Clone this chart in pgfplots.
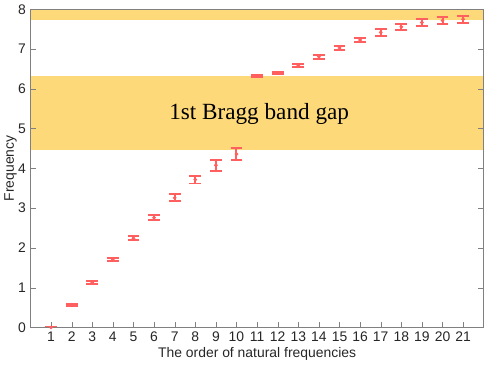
\documentclass[border=0pt]{standalone}
\usepackage{pgfplots}
\pgfplotsset{compat=1.18}
\usepackage{fontspec}
\setmainfont{Liberation Sans}
\newfontfamily\serifB{Liberation Serif}
\definecolor{band}{RGB}{253,217,122}
\definecolor{ebar}{RGB}{255,95,95}
\definecolor{axgray}{RGB}{128,128,128}
\definecolor{txt}{RGB}{38,38,38}
\begin{document}
\begin{tikzpicture}
\begin{axis}[
  scale only axis,
  width=342pt, height=240pt,
  xmin=0, xmax=22, ymin=0, ymax=8,
  xtick={1,...,21}, ytick={0,...,8},
  tick align=inside,
  xtick pos=bottom, ytick pos=both,
  axis line style={axgray},
  major tick style={axgray},
  tick label style={font=\fontsize{10.5}{12}\selectfont, text=txt},
  /pgf/number format/assume math mode=true,
  xlabel={The order of natural frequencies},
  ylabel={Frequency},
  label style={font=\fontsize{10.5}{12}\selectfont, text=txt},
  xlabel style={yshift=3pt},
  ylabel style={yshift=-6pt},
  axis on top,
  clip=true,
]
\addplot[fill=band, draw=none] coordinates {(0,4.47) (22,4.47) (22,6.32) (0,6.32)};
\addplot[fill=band, draw=none] coordinates {(0,7.74) (22,7.74) (22,8.2) (0,8.2)};
\addplot[only marks, mark=*, mark size=1.2pt, draw=ebar, fill=ebar, color=ebar,
  error bars/.cd, y dir=both, y explicit,
  error bar style={draw=ebar, color=ebar, line width=1.5pt},
  error mark options={rotate=90, mark size=4.5pt, line width=1.5pt, draw=ebar, color=ebar, solid}]
  coordinates {
  (1,0) +- (0,0.01)
  (2,0.57) +- (0,0.02)
  (3,1.13) +- (0,0.03)
  (4,1.70) +- (0,0.04)
  (5,2.24) +- (0,0.05)
  (6,2.76) +- (0,0.06)
  (7,3.26) +- (0,0.09)
  (8,3.72) +- (0,0.10)
  (9,4.08) +- (0,0.14)
  (10,4.36) +- (0,0.16)
  (11,6.33) +- (0,0.02)
  (12,6.40) +- (0,0.03)
  (13,6.58) +- (0,0.04)
  (14,6.81) +- (0,0.05)
  (15,7.03) +- (0,0.06)
  (16,7.23) +- (0,0.06)
  (17,7.42) +- (0,0.08)
  (18,7.56) +- (0,0.08)
  (19,7.67) +- (0,0.09)
  (20,7.72) +- (0,0.08)
  (21,7.75) +- (0,0.09)
  };
\node[font=\serifB\fontsize{17.5}{20}\selectfont] at (axis cs:11.1,5.37) {1st Bragg band gap};
\end{axis}
\end{tikzpicture}
\end{document}
